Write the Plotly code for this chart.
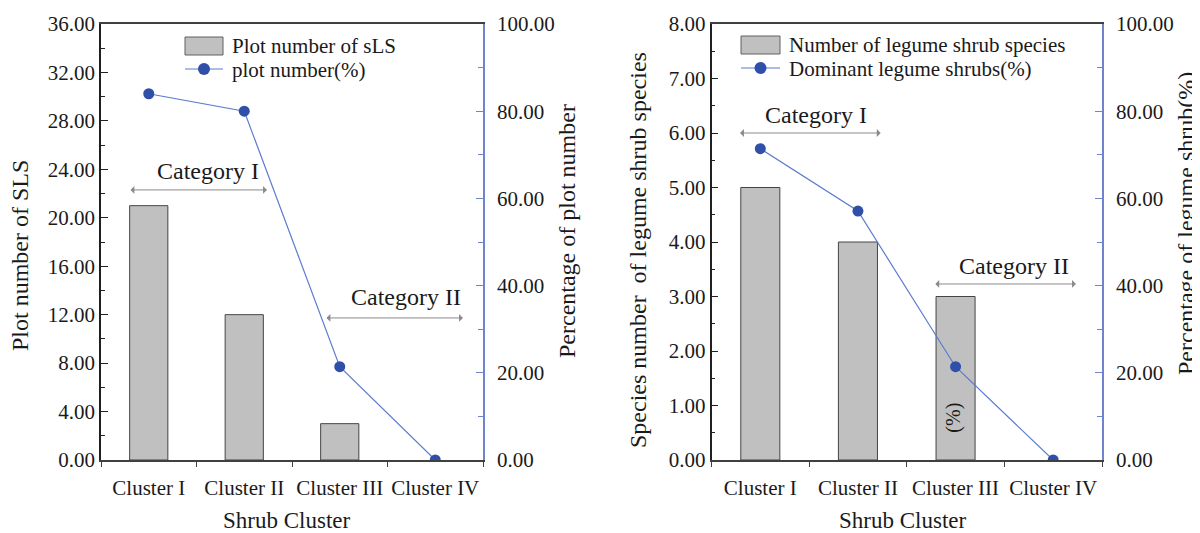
import plotly.graph_objects as go

clusters = ["Cluster I", "Cluster II", "Cluster III", "Cluster IV"]
plot_number_sls = [21, 12, 3, 0]
plot_number_pct = [84.0, 80.0, 21.4, 0.0]
legume_species = [5, 4, 3, 0]
dominant_legume_pct = [71.4, 57.1, 21.4, 0.0]

FONT = "Times New Roman, Liberation Serif, serif"
TXT = "#1a1a1a"
BLUE_AX = "#6f84cc"
LINE_C = "#5b7bd0"
MARK_C = "#2f4fa8"
BAR_C = "#c0c0c0"
BAR_LINE = "#454545"
ARROW_C = "#8a8a8a"

# page has an 8px body margin; figure is sized to fill the rest of the window
OFF = 8
W, H = 1200 - OFF, 533 - OFF


def px(x):
    return (x - OFF) / W


def py(y):
    return 1 - (y - OFF) / H


def bar_line_widths(vals):
    return [1 if v > 0 else 0 for v in vals]


fig = go.Figure()

fig.add_trace(go.Bar(x=clusters, y=plot_number_sls, width=0.4, name="Plot number of sLS",
                     marker=dict(color=BAR_C, line=dict(color=BAR_LINE,
                                                        width=bar_line_widths(plot_number_sls))),
                     xaxis="x", yaxis="y"))
fig.add_trace(go.Scatter(x=clusters, y=plot_number_pct, mode="lines+markers", name="plot number(%)",
                         line=dict(color=LINE_C, width=1.2), marker=dict(color=MARK_C, size=11),
                         xaxis="x", yaxis="y2"))
fig.add_trace(go.Bar(x=clusters, y=legume_species, width=0.4, name="Number of legume shrub species",
                     marker=dict(color=BAR_C, line=dict(color=BAR_LINE,
                                                        width=bar_line_widths(legume_species))),
                     xaxis="x2", yaxis="y3"))
fig.add_trace(go.Scatter(x=clusters, y=dominant_legume_pct, mode="lines+markers",
                         name="Dominant legume shrubs(%)",
                         line=dict(color=LINE_C, width=1.2), marker=dict(color=MARK_C, size=11),
                         xaxis="x2", yaxis="y4"))

ydom = [py(460), py(24)]
tickfont = dict(family=FONT, size=21, color=TXT)


def xax(domain, anchor):
    return dict(domain=domain, anchor=anchor, type="category", categoryorder="array",
                categoryarray=clusters, range=[-0.5, 3.5], tickson="boundaries",
                ticks="outside", ticklen=5, tickcolor="#404040", showline=True,
                linecolor="#404040", linewidth=1.5, mirror=True, showgrid=False,
                tickfont=tickfont, ticklabelstandoff=8, tickangle=0, automargin=False)


def ylax(rng, dtick, minor, anchor):
    return dict(domain=ydom, anchor=anchor, range=rng, dtick=dtick, tickformat=".2f",
                ticks="inside", ticklen=7, tickcolor="#202020", showline=True,
                linecolor="#202020", linewidth=1.5, showgrid=False, zeroline=False,
                minor=dict(dtick=minor, ticks="inside", ticklen=4, tickcolor="#202020"),
                tickfont=tickfont, automargin=False)


def yrax(overlay, anchor):
    return dict(overlaying=overlay, anchor=anchor, side="right", range=[0, 100], dtick=20,
                tickformat=".2f", ticks="inside", ticklen=7, tickcolor=BLUE_AX,
                showline=True, linecolor=BLUE_AX, linewidth=1.5, showgrid=False,
                zeroline=False,
                minor=dict(dtick=10, ticks="inside", ticklen=5, tickcolor=BLUE_AX),
                tickfont=tickfont, ticklabelstandoff=8, automargin=False)


fig.update_layout(
    width=W, height=H, margin=dict(l=0, r=0, t=0, b=0, autoexpand=False),
    paper_bgcolor="white", plot_bgcolor="white",
    barmode="overlay", showlegend=False,
    font=dict(family=FONT, color=TXT),
    xaxis=xax([px(101), px(483)], "y"),
    yaxis=ylax([0, 36], 4, 2, "x"),
    yaxis2=yrax("y", "x"),
    xaxis2=xax([px(711.5), px(1102)], "y3"),
    yaxis3=ylax([0, 8], 1, 0.5, "x2"),
    yaxis4=yrax("y3", "x2"),
)

ann = []
shapes = []


def title(text, x, y, angle=0, size=24, xanchor="center"):
    ann.append(dict(text=text, x=px(x), y=py(y), xref="paper", yref="paper",
                    showarrow=False, textangle=angle, xanchor=xanchor, yanchor="middle",
                    font=dict(family=FONT, size=size, color=TXT)))


title("Plot number of SLS", 20, 256, -90)
title("Percentage of plot number", 567, 231, -90)
title("Shrub Cluster", 286, 520, 0, 23)
title("Species number  of legume shrub species", 638, 250, -90)
title("Percentage of legume shrub(%)", 1186, 224, -90)
title("Shrub Cluster", 902, 520, 0, 23)


# legend keys (drawn as decoration)
def legend_block(x0, x1, yb, yl, t1, t2):
    shapes.append(dict(type="rect", xref="paper", yref="paper", x0=px(x0), x1=px(x1),
                       y0=py(yb + 9), y1=py(yb - 9), fillcolor=BAR_C,
                       line=dict(color="#606060", width=1)))
    shapes.append(dict(type="line", xref="paper", yref="paper", x0=px(x0), x1=px(x1),
                       y0=py(yl), y1=py(yl), line=dict(color=LINE_C, width=1.2)))
    xc = (x0 + x1) / 2
    shapes.append(dict(type="circle", xref="paper", yref="paper", x0=px(xc - 6), x1=px(xc + 6),
                       y0=py(yl + 6), y1=py(yl - 6), fillcolor=MARK_C,
                       line=dict(color=MARK_C, width=0)))
    title(t1, x1 + 7, yb, 0, 21, "left")
    title(t2, x1 + 7, yl + 1, 0, 21, "left")


legend_block(185, 223, 46, 69, "Plot number of sLS", "plot number(%)")
legend_block(741, 780, 45, 68, "Number of legume shrub species", "Dominant legume shrubs(%)")


def label(text, x, y, xr, yr, size=24, angle=0):
    ann.append(dict(text=text, x=x, y=y, xref=xr, yref=yr, showarrow=False, textangle=angle,
                    xanchor="center", yanchor="middle",
                    font=dict(family=FONT, size=size, color=TXT)))


def arrow(x0, x1, y, xr, yr):
    ann.append(dict(text="", x=x1, y=y, ax=x0, ay=y, xref=xr, yref=yr, axref=xr, ayref=yr,
                    showarrow=True, arrowhead=1, startarrowhead=1, arrowside="end+start",
                    arrowsize=1.3, startarrowsize=1.3, arrowwidth=1, arrowcolor=ARROW_C))


label("Category I", 0.62, 23.9, "x", "y")
arrow(-0.207, 1.238, 22.3, "x", "y")
label("Category II", 2.69, 13.46, "x", "y")
arrow(1.845, 3.29, 11.73, "x", "y")

label("Category I", 0.567, 6.33, "x2", "y3")
arrow(-0.223, 1.233, 6.0, "x2", "y3")
label("Category II", 2.597, 3.56, "x2", "y3")
arrow(1.777, 3.233, 3.23, "x2", "y3")
label("(%)", 1.97, 0.77, "x2", "y3", size=20, angle=-90)

fig.update_layout(annotations=ann, shapes=shapes)
fig.write_html("out.html")
